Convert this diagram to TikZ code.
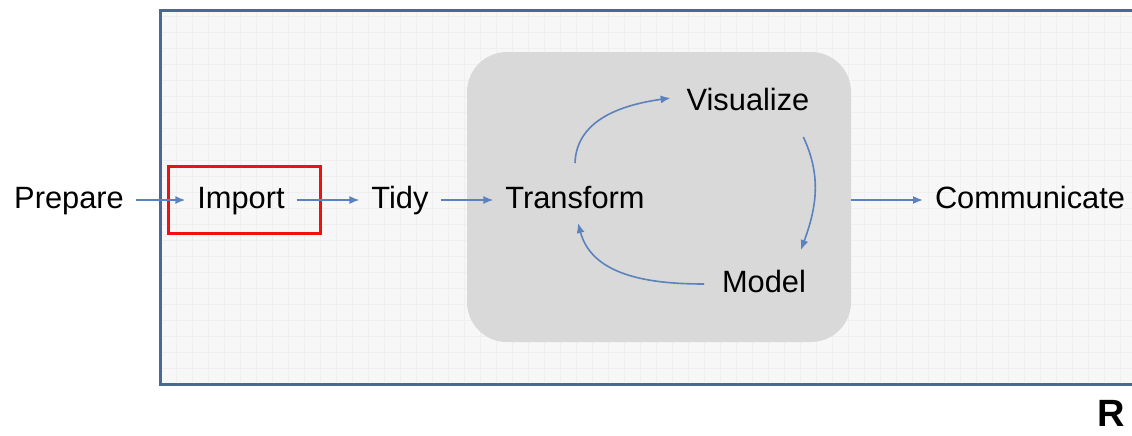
\documentclass[tikz,border=0pt]{standalone}
\usepackage{fontspec}
\setmainfont{Liberation Sans}
\usetikzlibrary{arrows.meta}

\definecolor{flowblue}{HTML}{5B82BE}
\definecolor{framblue}{HTML}{4A6894}
\definecolor{paper}{HTML}{F7F7F7}
\definecolor{gridline}{HTML}{EFEFEF}
\definecolor{coregray}{HTML}{D9D9D9}
\definecolor{markred}{HTML}{F01010}

\begin{document}
\begin{tikzpicture}[x=0.5pt,y=-0.5pt,>={Latex[length=5pt,width=4pt]},
    flow/.style={->,draw=flowblue,line width=0.8pt},
    stage/.style={inner sep=6pt,outer sep=0pt,text height=11pt,text depth=3pt,
                  font=\fontsize{15.4pt}{18pt}\selectfont}]
    \useasboundingbox (0,0) rectangle (1132,435);
			% frame of the R session
			\fill[paper] (160,10) rectangle (1132,384);
			\draw[gridline,step=8pt,line width=0.3pt] (162,12) grid (1132,382);
			\draw[framblue,line width=1.5pt] (1132,10) -- (160,10) -- (160,384) -- (1132,384);
			\node[fill=coregray,rounded corners=20pt,minimum width=192pt,minimum height=145pt] (core) at (659,197) {};
			% stages
			\node[stage] (prep) at (69,200)   {Prepare};
			\node[stage] (imp)  at (241,200)  {Import};
			\node[stage] (tidy) at (400,200)  {Tidy};
			\node[stage] (tran) at (575,200)  {Transform};
			\node[stage] (vis)  at (748,102)  {Visualize};
			\node[stage] (mod)  at (764,284)  {Model};
			\node[stage] (comm) at (1030,200) {Communicate};
			\node[draw=markred,line width=1.5pt,minimum width=76pt,minimum height=33.5pt] (mark) at (244,199.5) {};
			\node[font=\fontsize{19pt}{22pt}\selectfont\bfseries] (lang) at (1111,413) {R};
			% arrows
			\draw[flow] (prep) -- (imp);
			\draw[flow] (imp) -- (tidy);
			\draw[flow] (tidy) -- (tran);
			\draw[flow] (core.east |- comm) -- (comm);
			\draw[flow] ([yshift=5.5pt]tran.north) to[out=88,in=188] ([xshift=-2pt,yshift=2pt]vis.west);
			\draw[flow] ([xshift=-9pt,yshift=-4.5pt]vis.south east) to[out=-65,in=70] ([xshift=-8.5pt,yshift=4pt]mod.north east);
			\draw[flow] ([xshift=-3pt]mod.west) to[out=180,in=-75] ([xshift=1.5pt,yshift=1.5pt]tran.south);
		\end{tikzpicture}
\end{document}
